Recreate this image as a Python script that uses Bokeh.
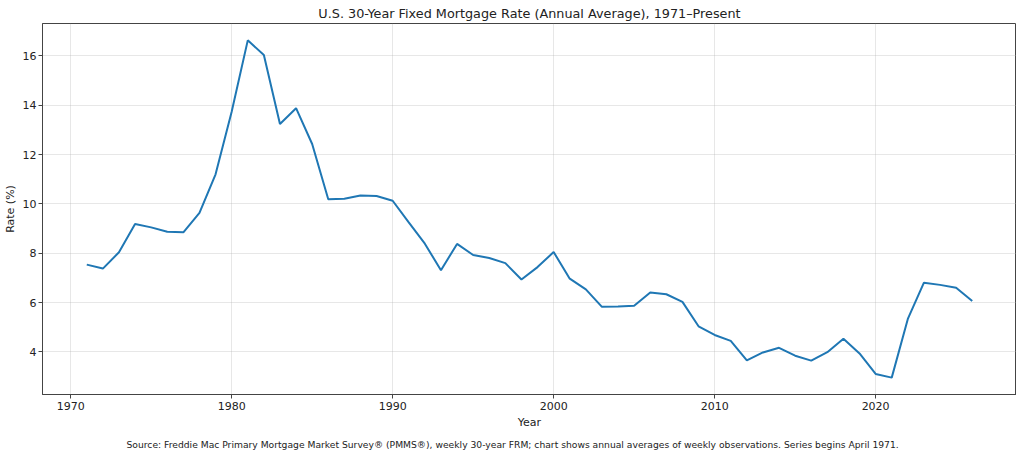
from bokeh.plotting import figure
from bokeh.models import Range1d, FixedTicker, Title, ColumnDataSource
from bokeh.embed import file_html
from bokeh.resources import INLINE

years = list(range(1971, 2027))
rates = [7.54, 7.38, 8.04, 9.19, 9.05, 8.87, 8.85, 9.64, 11.20, 13.74,
         16.63, 16.04, 13.24, 13.88, 12.43, 10.19, 10.21, 10.34, 10.32, 10.13,
         9.25, 8.39, 7.31, 8.38, 7.93, 7.81, 7.60, 6.94, 7.44, 8.05,
         6.97, 6.54, 5.83, 5.84, 5.87, 6.41, 6.34, 6.03, 5.04, 4.69,
         4.45, 3.66, 3.98, 4.17, 3.85, 3.65, 3.99, 4.54, 3.94, 3.11,
         2.96, 5.34, 6.81, 6.72, 6.60, 6.07]
x_ticks = [1970, 1980, 1990, 2000, 2010, 2020]
y_ticks = [4, 6, 8, 10, 12, 14, 16]

title_text = "U.S. 30-Year Fixed Mortgage Rate (Annual Average), 1971\u2013Present"
footer_text = ("Source: Freddie Mac Primary Mortgage Market Survey\u00ae (PMMS\u00ae), weekly 30-year FRM; "
               "chart shows annual averages of weekly observations. Series begins April 1971.")

span_x = years[-1] - years[0]
span_y = max(rates) - min(rates)
x_range = Range1d(years[0] - 0.05 * span_x, years[-1] + 0.05 * span_x)
y_range = Range1d(min(rates) - 0.05 * span_y, max(rates) + 0.05 * span_y)

FONT = "DejaVu Sans"
TXT = "#222222"

p = figure(frame_width=974, frame_height=371, output_backend="svg", toolbar_location=None,
           x_range=x_range, y_range=y_range,
           min_border_left=0, min_border_right=0, min_border_top=0, min_border_bottom=0)

p.title.text = title_text
p.title.align = "center"
p.title.text_font = FONT
p.title.text_font_size = "12.8px"
p.title.text_font_style = "normal"
p.title.text_color = TXT
p.title.standoff = 6

src = ColumnDataSource(dict(year=years, rate=rates))
p.line("year", "rate", source=src, line_color="#1f77b4", line_width=2)

footer = Title(text=footer_text, align="left", text_font=FONT, text_font_size="9.2px",
               text_font_style="normal", text_color=TXT, standoff=10, offset=84)
p.add_layout(footer, "below")

p.xaxis.axis_label = "Year"
p.yaxis.axis_label = "Rate (%)"
for ax in (p.xaxis, p.yaxis):
    ax.axis_label_text_font = FONT
    ax.axis_label_text_font_size = "11px"
    ax.axis_label_text_font_style = "normal"
    ax.axis_label_text_color = TXT
    ax.major_label_text_font = FONT
    ax.major_label_text_font_size = "11px"
    ax.major_label_text_color = TXT
    ax.axis_line_color = "#444444"
    ax.major_tick_line_color = "#444444"
    ax.major_tick_out = 4
    ax.major_tick_in = 0
    ax.minor_tick_line_color = None
    ax.major_label_standoff = 3
    ax.axis_label_standoff = 3
p.yaxis.major_label_standoff = 2
p.yaxis.axis_label_standoff = 3
p.xaxis.ticker = FixedTicker(ticks=x_ticks)
p.yaxis.ticker = FixedTicker(ticks=y_ticks)

p.outline_line_color = "#444444"
p.outline_line_width = 1
p.outline_line_alpha = 1
p.xgrid.grid_line_color = "#b0b0b0"
p.ygrid.grid_line_color = "#b0b0b0"
p.xgrid.grid_line_alpha = 0.3
p.ygrid.grid_line_alpha = 0.3
p.xgrid.ticker = FixedTicker(ticks=x_ticks)
p.ygrid.ticker = FixedTicker(ticks=y_ticks)

open("out.html", "w").write(file_html(p, INLINE))
